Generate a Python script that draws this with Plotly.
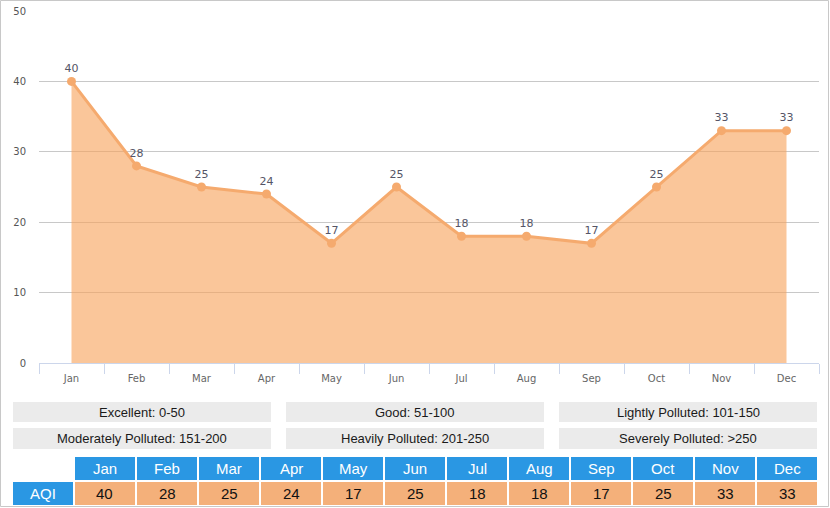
import plotly.graph_objects as go

months = ["Jan", "Feb", "Mar", "Apr", "May", "Jun", "Jul", "Aug", "Sep", "Oct", "Nov", "Dec"]
aqi = [40, 28, 25, 24, 17, 25, 18, 18, 17, 25, 33, 33]
levels = ["Excellent: 0-50", "Good: 51-100", "Lightly Polluted: 101-150",
          "Moderately Polluted: 151-200", "Heavily Polluted: 201-250", "Severely Polluted: >250"]
row_label = "AQI"

W, H = 830, 508


def px(x):
    return x / W


def py(y):
    return 1 - y / H


fig = go.Figure()
fig.add_trace(go.Scatter(
    x=months, y=aqi, mode="lines+markers+text",
    line=dict(color="#f5aa6e", width=3),
    marker=dict(color="#f5aa6e", size=9),
    fill="tozeroy", fillcolor="rgba(247,163,92,0.62)",
    text=[str(v) for v in aqi], textposition="top center",
    textfont=dict(family="DejaVu Sans", size=11, color="#555566"),
    hoverinfo="x+y", showlegend=False,
))

shapes = []
annotations = []

# outer border
shapes.append(dict(type="rect", xref="paper", yref="paper", x0=px(0.5), x1=px(828.5), y0=py(506.5), y1=py(0.5),
                   line=dict(color="#c8c8c8", width=1), fillcolor="rgba(0,0,0,0)", layer="below"))

# level boxes
col_x = [13, 286, 559]
row_y = [(402, 422), (428, 449)]
for i, lab in enumerate(levels):
    r, c = divmod(i, 3)
    x0, x1 = col_x[c], col_x[c] + 258
    y0, y1 = row_y[r]
    shapes.append(dict(type="rect", xref="paper", yref="paper", x0=px(x0), x1=px(x1), y0=py(y1), y1=py(y0),
                       line=dict(width=0), fillcolor="#ebebeb"))
    annotations.append(dict(xref="paper", yref="paper", x=px((x0 + x1) / 2), y=py((y0 + y1) / 2),
                            text=lab, showarrow=False, xanchor="center", yanchor="middle",
                            font=dict(family="Liberation Sans, Arial", size=13, color="#1a1a1a")))

# table
blue = "#2a97e3"
orange = "#f4b07a"
hy = (457, 480)
dy = (482, 505)
shapes.append(dict(type="rect", xref="paper", yref="paper", x0=px(13), x1=px(73), y0=py(dy[1]), y1=py(dy[0]),
                   line=dict(width=0), fillcolor=blue))
annotations.append(dict(xref="paper", yref="paper", x=px(43), y=py((dy[0] + dy[1]) / 2), text=row_label,
                        showarrow=False, xanchor="center", yanchor="middle",
                        font=dict(family="Liberation Sans, Arial", size=15, color="white")))
for i, (m, v) in enumerate(zip(months, aqi)):
    x0 = 75 + i * 62
    x1 = x0 + 60
    shapes.append(dict(type="rect", xref="paper", yref="paper", x0=px(x0), x1=px(x1), y0=py(hy[1]), y1=py(hy[0]),
                       line=dict(width=0), fillcolor=blue))
    shapes.append(dict(type="rect", xref="paper", yref="paper", x0=px(x0), x1=px(x1), y0=py(dy[1]), y1=py(dy[0]),
                       line=dict(width=0), fillcolor=orange))
    annotations.append(dict(xref="paper", yref="paper", x=px((x0 + x1) / 2), y=py((hy[0] + hy[1]) / 2), text=m,
                            showarrow=False, xanchor="center", yanchor="middle",
                            font=dict(family="Liberation Sans, Arial", size=15, color="white")))
    annotations.append(dict(xref="paper", yref="paper", x=px((x0 + x1) / 2), y=py((dy[0] + dy[1]) / 2), text=str(v),
                            showarrow=False, xanchor="center", yanchor="middle",
                            font=dict(family="Liberation Sans, Arial", size=15, color="#111111")))

fig.update_layout(
    width=W, height=H,
    margin=dict(l=0, r=0, t=0, b=0, autoexpand=False),
    paper_bgcolor="white", plot_bgcolor="white",
    font=dict(family="DejaVu Sans"),
    shapes=shapes, annotations=annotations,
    xaxis=dict(domain=[px(39), px(819)], type="category", range=[-0.5, 11.5], tickson="boundaries",
               ticks="outside", ticklen=10, tickcolor="#ccd6eb", tickwidth=1,
               showline=True, linecolor="#ccd6eb", linewidth=1, showgrid=False, automargin=False,
               ticklabelstandoff=6, tickfont=dict(size=10, color="#666666"), fixedrange=True),
    yaxis=dict(domain=[py(363), py(11)], range=[0, 50], dtick=10, showgrid=True, automargin=False,
               gridcolor="#c8c8c8", gridwidth=1, zeroline=False, showline=False,
               ticklabelstandoff=12, tickfont=dict(size=10, color="#555555"), fixedrange=True),
)

# page body has a default 8px margin; drop it so the figure sits at the window corner
fig.write_html("out.html", config={"displayModeBar": False},
               post_script="document.body.style.margin='0';document.body.style.overflow='hidden';")
